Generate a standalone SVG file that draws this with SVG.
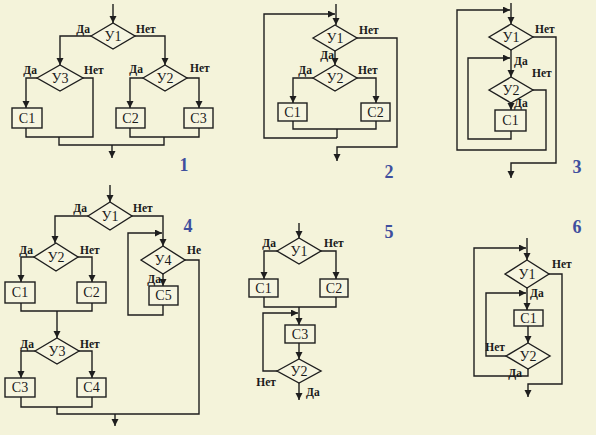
<svg xmlns="http://www.w3.org/2000/svg" width="596" height="435" viewBox="0 0 596 435">
<defs>
<marker id="ah" markerUnits="userSpaceOnUse" markerWidth="8" markerHeight="8" refX="7" refY="3.5" orient="auto">
<path d="M0,0 L7,3.5 L0,7 z" fill="#1e1e1e"/>
</marker>
</defs>
<style>
.ln{fill:none;stroke:#1e1e1e;stroke-width:1.4}
.ar{fill:none;stroke:#1e1e1e;stroke-width:1.4;marker-end:url(#ah)}
.sh{fill:#f6f5e0;stroke:#1e1e1e;stroke-width:1.4}
.t{font-family:"Liberation Serif",serif;font-size:14px;fill:#1a1a1a;text-anchor:middle}
.l{font-family:"Liberation Serif",serif;font-size:11.5px;font-weight:bold;fill:#1a1a1a}
.e{text-anchor:end}
.n{font-family:"Liberation Serif",serif;font-size:18px;font-weight:bold;fill:#3f4f9e;text-anchor:middle}
</style>
<rect width="596" height="435" fill="#f4f3da"/>

<g id="connectors">
<!-- diagram 1 -->
<path class="ar" d="M113,4 V23"/>
<path class="ar" d="M91,36 H60 V65"/>
<path class="ar" d="M135,36 H165 V65"/>
<path class="ar" d="M37,78 H26 V108"/>
<path class="ln" d="M26,128 V137 H93 V78 H83"/>
<path class="ar" d="M143,78 H130 V108"/>
<path class="ar" d="M187,78 H199 V108"/>
<path class="ln" d="M130,128 V137 H199 V128"/>
<path class="ln" d="M59,137 V145 H164 V137"/>
<path class="ar" d="M112,145 V158"/>
<!-- diagram 2 -->
<path class="ar" d="M336,4 V25"/>
<path class="ar" d="M337,138 H264 V14 H335"/>
<path class="ar" d="M357,38 H397 V147 H337 V161"/>
<path class="ar" d="M335,51 V65"/>
<path class="ar" d="M313,78 H293 V103"/>
<path class="ar" d="M357,78 H376 V103"/>
<path class="ln" d="M293,121 V129 H376 V121"/>
<path class="ln" d="M337,129 V138"/>
<!-- diagram 3 -->
<path class="ar" d="M511,3 V24"/>
<path class="ar" d="M533,90 H546 V150 H457 V10 H510"/>
<path class="ar" d="M533,37 H556 V163 H511 V178"/>
<path class="ar" d="M511,50 V77"/>
<path class="ar" d="M511,103 V110"/>
<path class="ar" d="M511,131 V139 H468 V58 H510"/>
<!-- diagram 4 -->
<path class="ar" d="M110,185 V202"/>
<path class="ar" d="M88,216 H55 V243"/>
<path class="ar" d="M132,216 H163 V246"/>
<path class="ar" d="M34,257 H21 V282"/>
<path class="ar" d="M78,257 H92 V282"/>
<path class="ln" d="M21,303 V311 H92 V303"/>
<path class="ar" d="M57,311 V338"/>
<path class="ar" d="M35,351 H21 V378"/>
<path class="ar" d="M79,351 H92 V378"/>
<path class="ln" d="M21,397 V407 H92 V397"/>
<path class="ln" d="M57,407 V414 H199 V260 H185"/>
<path class="ar" d="M115,414 V426"/>
<path class="ar" d="M163,274 V286"/>
<path class="ar" d="M163,305 V315 H128 V233 H162"/>
<!-- diagram 5 -->
<path class="ar" d="M299,223 V238"/>
<path class="ar" d="M277,251 H264 V279"/>
<path class="ar" d="M321,251 H336 V279"/>
<path class="ln" d="M264,297 V307 H336 V297"/>
<path class="ar" d="M299,307 V325"/>
<path class="ar" d="M277,371 H263 V313 H298"/>
<path class="ar" d="M299,343 V359"/>
<path class="ar" d="M299,383 V400"/>
<!-- diagram 6 -->
<path class="ar" d="M527,238 V260"/>
<path class="ar" d="M528,369 V376 H474 V248 H526"/>
<path class="ar" d="M549,274 H562 V384 H528 V397"/>
<path class="ar" d="M527,288 V310"/>
<path class="ar" d="M506,356 H486 V293 H526"/>
<path class="ar" d="M528,326 V343"/>
</g>

<!-- diagram 1 nodes -->
<g id="d1-u1"><polygon class="sh" points="91,36 113,23 135,36 113,49"/><text class="t" x="113" y="41">У1</text></g>
<g id="d1-u3"><polygon class="sh" points="37,78 60,65 83,78 60,91"/><text class="t" x="60" y="83">У3</text></g>
<g id="d1-u2"><polygon class="sh" points="143,78 165,65 187,78 165,91"/><text class="t" x="165" y="83">У2</text></g>
<g id="d1-c1"><rect class="sh" x="12" y="108" width="30" height="20"/><text class="t" x="27" y="123">С1</text></g>
<g id="d1-c2"><rect class="sh" x="116" y="108" width="29" height="20"/><text class="t" x="130.5" y="123">С2</text></g>
<g id="d1-c3"><rect class="sh" x="184" y="108" width="29" height="20"/><text class="t" x="198.5" y="123">С3</text></g>
<g id="d1-labels">
<text class="l e" x="90" y="33">Да</text><text class="l" x="136" y="33">Нет</text>
<text class="l e" x="37" y="74">Да</text><text class="l" x="84" y="74">Нет</text>
<text class="l e" x="143" y="73">Да</text><text class="l" x="190" y="72">Нет</text>
<text class="n" x="184" y="171">1</text>
</g>

<!-- diagram 2 nodes -->
<g id="d2-u1"><polygon class="sh" points="313,38 335,25 357,38 335,51"/><text class="t" x="335" y="43">У1</text></g>
<g id="d2-u2"><polygon class="sh" points="313,78 335,65 357,78 335,91"/><text class="t" x="335" y="83">У2</text></g>
<g id="d2-c1"><rect class="sh" x="278" y="103" width="29" height="18"/><text class="t" x="292.5" y="117">С1</text></g>
<g id="d2-c2"><rect class="sh" x="361" y="103" width="29" height="18"/><text class="t" x="375.5" y="117">С2</text></g>
<g id="d2-labels">
<text class="l" x="359" y="34">Нет</text><text class="l e" x="334" y="59">Да</text>
<text class="l e" x="312" y="74">Да</text><text class="l" x="358" y="74">Нет</text>
<text class="n" x="389" y="178">2</text>
</g>

<!-- diagram 3 nodes -->
<g id="d3-u1"><polygon class="sh" points="489,37 511,24 533,37 511,50"/><text class="t" x="511" y="42">У1</text></g>
<g id="d3-u2"><polygon class="sh" points="489,90 511,77 533,90 511,103"/><text class="t" x="511" y="95">У2</text></g>
<g id="d3-c1"><rect class="sh" x="495" y="110" width="31" height="21"/><text class="t" x="510.5" y="125">С1</text></g>
<g id="d3-labels">
<text class="l" x="514" y="65">Да</text><text class="l" x="535" y="33">Нет</text>
<text class="l" x="532" y="77">Нет</text><text class="l" x="514" y="107">Да</text>
<text class="n" x="577" y="173">3</text>
</g>

<!-- diagram 4 nodes -->
<g id="d4-u1"><polygon class="sh" points="88,216 110,202 132,216 110,230"/><text class="t" x="110" y="221">У1</text></g>
<g id="d4-u2"><polygon class="sh" points="34,257 56,243 78,257 56,271"/><text class="t" x="56" y="262">У2</text></g>
<g id="d4-u3"><polygon class="sh" points="35,351 57,338 79,351 57,364"/><text class="t" x="57" y="356">У3</text></g>
<g id="d4-u4"><polygon class="sh" points="141,260 163,246 185,260 163,274"/><text class="t" x="163" y="265">У4</text></g>
<g id="d4-c1"><rect class="sh" x="5" y="282" width="30" height="21"/><text class="t" x="20" y="297">С1</text></g>
<g id="d4-c2"><rect class="sh" x="77" y="282" width="29" height="21"/><text class="t" x="91.5" y="297">С2</text></g>
<g id="d4-c3"><rect class="sh" x="5" y="378" width="30" height="19"/><text class="t" x="20" y="392">С3</text></g>
<g id="d4-c4"><rect class="sh" x="77" y="378" width="29" height="19"/><text class="t" x="91.5" y="392">С4</text></g>
<g id="d4-c5"><rect class="sh" x="149" y="286" width="29" height="19"/><text class="t" x="163.5" y="300">С5</text></g>
<g id="d4-labels">
<text class="l e" x="87" y="212">Да</text><text class="l" x="133" y="212">Нет</text>
<text class="l e" x="33" y="254">Да</text><text class="l" x="80" y="254">Нет</text>
<text class="l e" x="34" y="348">Да</text><text class="l" x="80" y="348">Нет</text>
<text class="l e" x="161" y="283">Да</text><text class="l" x="187" y="254">Не</text>
<text class="n" x="188" y="232">4</text>
</g>

<!-- diagram 5 nodes -->
<g id="d5-u1"><polygon class="sh" points="277,251 299,238 321,251 299,264"/><text class="t" x="299" y="256">У1</text></g>
<g id="d5-c1"><rect class="sh" x="249" y="279" width="29" height="18"/><text class="t" x="263.5" y="293">С1</text></g>
<g id="d5-c2"><rect class="sh" x="320" y="279" width="28" height="18"/><text class="t" x="334" y="293">С2</text></g>
<g id="d5-c3"><rect class="sh" x="285" y="325" width="30" height="18"/><text class="t" x="300" y="339">С3</text></g>
<g id="d5-u2"><polygon class="sh" points="277,371 299,359 321,371 299,383"/><text class="t" x="299" y="376">У2</text></g>
<g id="d5-labels">
<text class="l e" x="276" y="247">Да</text><text class="l" x="324" y="247">Нет</text>
<text class="l e" x="276" y="386">Нет</text><text class="l" x="306" y="396">Да</text>
<text class="n" x="389" y="238">5</text>
</g>

<!-- diagram 6 nodes -->
<g id="d6-u1"><polygon class="sh" points="505,274 527,260 549,274 527,288"/><text class="t" x="527" y="279">У1</text></g>
<g id="d6-c1"><rect class="sh" x="514" y="310" width="29" height="16"/><text class="t" x="528.5" y="323">С1</text></g>
<g id="d6-u2"><polygon class="sh" points="506,356 528,343 550,356 528,369"/><text class="t" x="528" y="361">У2</text></g>
<g id="d6-labels">
<text class="l" x="552" y="268">Нет</text><text class="l" x="530" y="297">Да</text>
<text class="l e" x="505" y="351">Нет</text><text class="l e" x="522" y="377">Да</text>
<text class="n" x="577" y="233">6</text>
</g>
</svg>
